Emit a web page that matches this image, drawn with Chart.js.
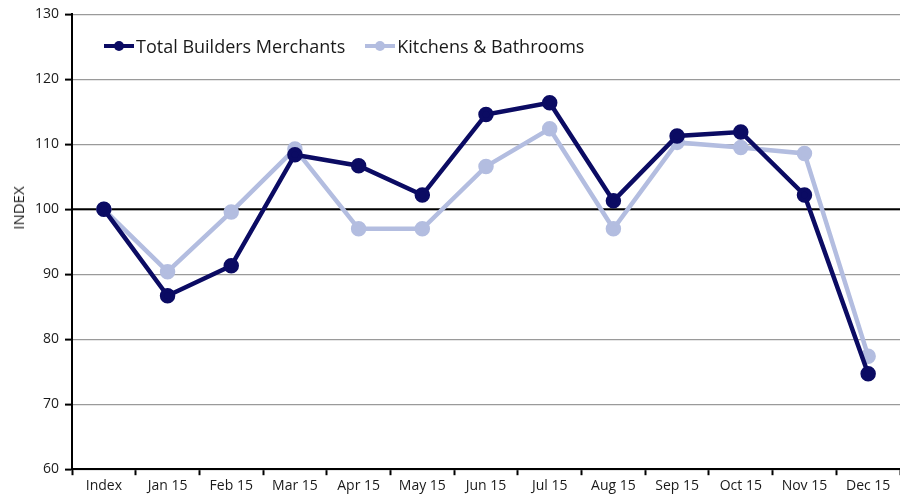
<!DOCTYPE html>
<html>
<head>
<meta charset="utf-8">
<script src="https://cdn.jsdelivr.net/npm/chart.js@4/dist/chart.umd.min.js"></script>
<style>
  html, body { margin: 0; padding: 0; background: #fff; }
  #wrap { position: relative; width: 900px; height: 501px; overflow: hidden; }
  #legenda { position: absolute; left: 104px; top: 34px; font: 18px "Open Sans", sans-serif; color: #1a1a1a; display: flex; gap: 20px; }
  .stavka { display: flex; align-items: center; }
  .znak { position: relative; width: 30px; height: 4px; margin-right: 2px; }
  .znak span { position: absolute; left: 10px; top: -3px; width: 10px; height: 10px; border-radius: 50%; }
  #naslovY { position: absolute; left: 18px; top: 208px; transform: translate(-50%, -50%) rotate(-90deg); font: 15px "Open Sans", sans-serif; color: #1a1a1a; white-space: nowrap; }
</style>
</head>
<body>
<div id="wrap">
  <canvas id="grafikon" width="910" height="501"></canvas>
  <div id="naslovY">INDEX</div>
  <div id="legenda">
    <div class="stavka"><div class="znak" style="background:#0b0b63"><span style="background:#0b0b63"></span></div>Total Builders Merchants</div>
    <div class="stavka"><div class="znak" style="background:#b3bde0"><span style="background:#b3bde0"></span></div>Kitchens &amp; Bathrooms</div>
  </div>
</div>
<script>
const mjeseci = ["Index", "Jan 15", "Feb 15", "Mar 15", "Apr 15", "May 15", "Jun 15", "Jul 15", "Aug 15", "Sep 15", "Oct 15", "Nov 15", "Dec 15"];
const ukupno = [100, 86.7, 91.3, 108.4, 106.7, 102.2, 114.6, 116.4, 101.3, 111.3, 111.9, 102.2, 74.7];
const kuhinje = [100, 90.4, 99.6, 109.3, 97.0, 97.0, 106.6, 112.4, 97.0, 110.3, 109.5, 108.6, 77.4];
const osnovica = 100;

const font = { family: "'Open Sans', sans-serif", size: 14 };

// crna linija indeksa 100 preko cijele širine grafa, ispod serija
const linijaOsnovice = {
    id: "linijaOsnovice",
    beforeDatasetsDraw(chart) {
        const ctx = chart.ctx;
        const y = chart.scales.y.getPixelForValue(osnovica);
        ctx.save();
        ctx.strokeStyle = "#000";
        ctx.lineWidth = 2;
        ctx.beginPath();
        ctx.moveTo(chart.chartArea.left, y);
        ctx.lineTo(chart.chartArea.right, y);
        ctx.stroke();
        ctx.restore();
    }
};

new Chart(document.getElementById("grafikon").getContext("2d"), {
    type: "line",
    data: {
        labels: mjeseci,
        datasets: [
            {
                label: "Total Builders Merchants",
                data: ukupno,
                borderColor: "#0b0b63",
                backgroundColor: "#0b0b63",
                borderWidth: 4.5,
                pointRadius: 5.5,
                pointHoverRadius: 5.5,
                tension: 0,
                order: 0
            },
            {
                label: "Kitchens & Bathrooms",
                data: kuhinje,
                borderColor: "#b3bde0",
                backgroundColor: "#b3bde0",
                borderWidth: 4.5,
                pointRadius: 5.5,
                pointHoverRadius: 5.5,
                tension: 0,
                order: 1
            }
        ]
    },
    options: {
        responsive: false,
        animation: false,
        layout: { padding: { top: 9, right: 0, left: 29, bottom: 5 } },
        plugins: {
            legend: { display: false },
            tooltip: { enabled: false }
        },
        scales: {
            x: {
                offset: true,
                grid: { offset: true, drawOnChartArea: false, drawTicks: true, tickLength: 6, tickColor: "#000", tickWidth: 2 },
                border: { color: "#000", width: 2 },
                ticks: { color: "#1a1a1a", font: font, padding: 2, maxRotation: 0 }
            },
            y: {
                min: 60,
                max: 130,
                ticks: { stepSize: 10, color: "#1a1a1a", font: font, padding: 6 },
                grid: { color: "#9a9a9a", lineWidth: 1.2, tickColor: "#000", tickLength: 7, tickWidth: 2 },
                border: { color: "#000", width: 2 }
            }
        }
    },
    plugins: [linijaOsnovice]
});
</script>
</body>
</html>
